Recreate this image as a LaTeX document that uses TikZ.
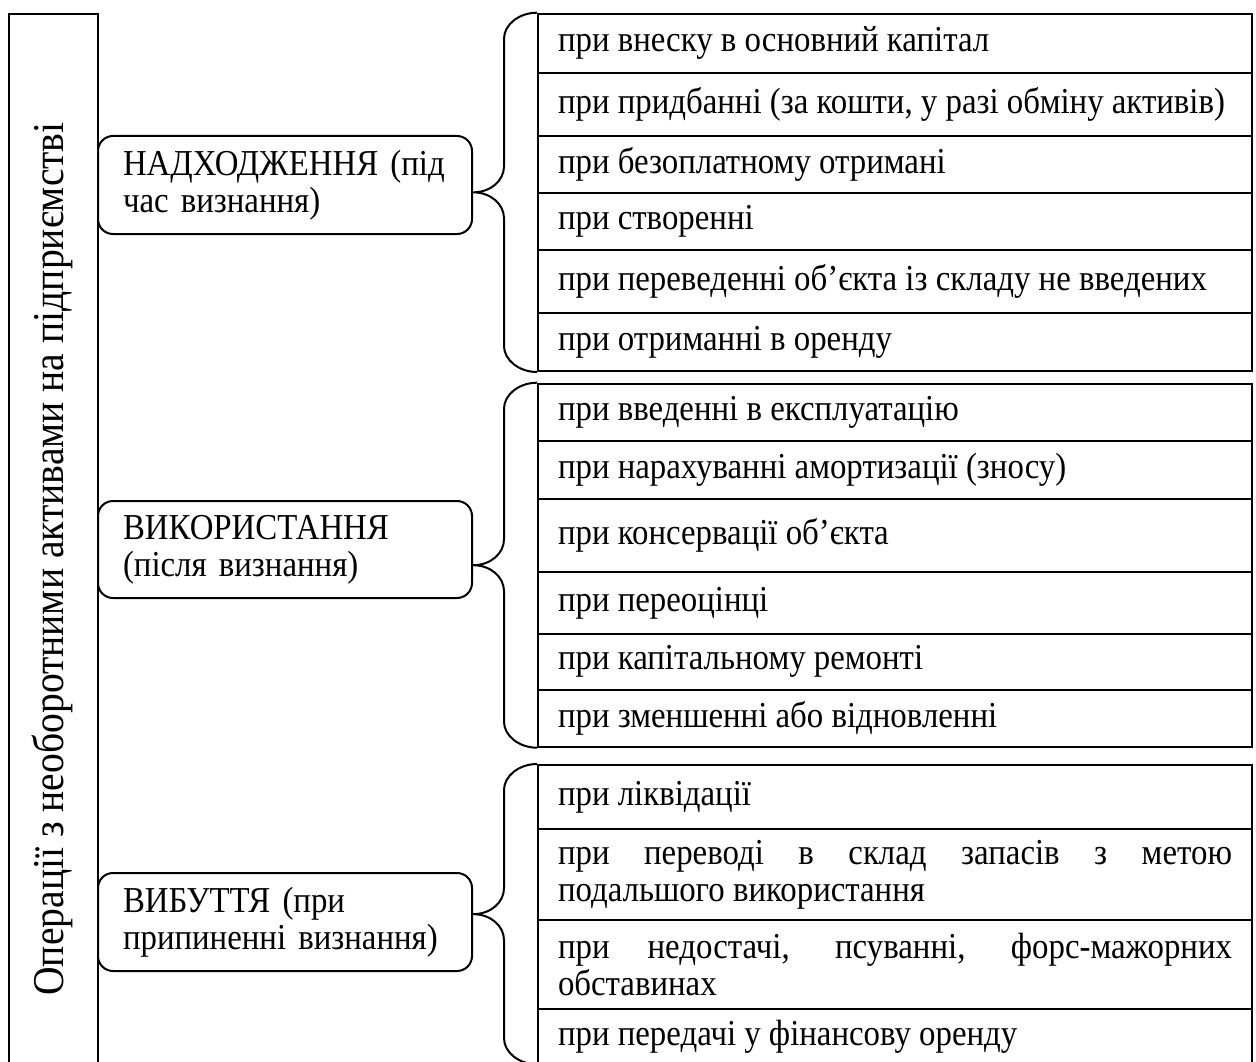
\documentclass[tikz,border=0pt]{standalone}
\usepackage{fontspec}
\setmainfont[FakeStretch=0.9]{Liberation Serif}
\usetikzlibrary{calc}
\newcommand\mybrace[3]{%
  \draw[ln] let \p1=(#1.north west), \p2=(#2.south west), \p3=(#3.east),
      \p4=($(#1.north west)!0.5!(#2.south west)$) in
    (\x1,\y1) .. controls (\x1-18pt,\y1) and (\x1-33pt,\y1-12pt) .. (\x1-33pt,\y1-26pt)
    -- (\x1-33pt,\y4+26pt) .. controls (\x1-33pt,\y4+12pt) and (\x3+18pt,\y4) .. (\x3,\y4)
    .. controls (\x3+18pt,\y4) and (\x1-33pt,\y4-12pt) .. (\x1-33pt,\y4-26pt)
    -- (\x1-33pt,\y2+26pt) .. controls (\x1-33pt,\y2+12pt) and (\x1-18pt,\y2) .. (\x1,\y2);
}
\newcommand\myrow[4]{%
  \node[rowbox,minimum height=#3pt] (#1) at (537,#2) {#4};
}
\begin{document}
\begin{tikzpicture}[x=1pt,y=-1pt,
  every node/.style={font=\fontsize{36.5}{37}\selectfont},
  ln/.style={line width=2pt,line join=round},
  rowbox/.style={draw,line width=2pt,anchor=north west,text width=674pt,
    inner xsep=20pt,inner ysep=0pt,align=justify},
  catbox/.style={draw,line width=2pt,rounded corners=15pt,anchor=north west,
    text width=324pt,inner xsep=25pt,inner ysep=0pt,align=left},
  titlebox/.style={draw,line width=2pt,anchor=north west,minimum width=88.4pt,
    minimum height=1095pt,inner sep=0pt},
  titletext/.style={rotate=90,font=\fontsize{44}{48}\selectfont,inner sep=0pt}]
\clip (0,0) rectangle (1256,1062);
% title column
\node[titlebox] (title) at (8.3,12.7) {};
\node[titletext] (titletxt) at (52,559) {Операції з необоротними активами на підприємстві};
% category boxes
\node[catbox,minimum height=98pt] (c1) at (97,135) {НАДХОДЖЕННЯ (під\\час визнання)};
\node[catbox,minimum height=97pt] (c2) at (97,500) {ВИКОРИСТАННЯ\\(після визнання)};
\node[catbox,minimum height=98pt] (c3) at (97,872) {ВИБУТТЯ (при\\припиненні визнання)};
% group 1
\myrow{r11}{12.7}{59}{при внеску в основний капітал}
\myrow{r12}{71.7}{63.3}{при придбанні (за кошти, у разі обміну активів)}
\myrow{r13}{135}{56.7}{при безоплатному отримані}
\myrow{r14}{191.7}{57.6}{при створенні}
\myrow{r15}{249.3}{63}{при переведенні об’єкта із складу не введених}
\myrow{r16}{312.3}{57.7}{при отриманні в оренду}
% group 2
\myrow{r21}{382.7}{57.3}{при введенні в експлуатацію}
\myrow{r22}{440}{57.7}{при нарахуванні амортизації (зносу)}
\myrow{r23}{497.7}{73.3}{при консервації об’єкта}
\myrow{r24}{571}{61.7}{при переоцінці}
\myrow{r25}{632.7}{56.3}{при капітальному ремонті}
\myrow{r26}{689}{56.7}{при зменшенні або відновленні}
% group 3
\myrow{r31}{764}{64.3}{при ліквідації}
\myrow{r32}{828.3}{91}{при переводі в склад запасів з метою\linebreak подальшого використання}
\myrow{r33}{919.3}{89}{при недостачі, псуванні, форс-мажорних\linebreak обставинах}
\myrow{r34}{1008.3}{54}{при передачі у фінансову оренду}
% braces
\mybrace{r11}{r16}{c1}
\mybrace{r21}{r26}{c2}
\mybrace{r31}{r34}{c3}
\end{tikzpicture}
\end{document}
